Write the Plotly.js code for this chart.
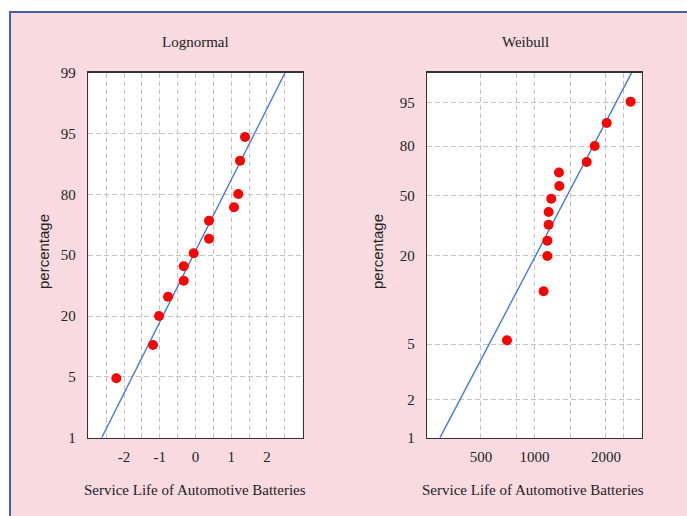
<!DOCTYPE html>
<html>
<head>
<meta charset="utf-8">
<script src="https://cdn.plot.ly/plotly-3.0.1.min.js"></script>
<style>
html,body{margin:0;padding:0;background:#ffffff;width:687px;height:516px;overflow:hidden;}
#frame{position:absolute;left:9px;top:11px;width:678px;height:505px;background:#f9dae0;border-top:2px solid #4a5ea6;border-left:2px solid #4a5ea6;box-sizing:border-box;}
#chart{position:absolute;left:0;top:0;width:687px;height:516px;}
</style>
</head>
<body>
<div id="frame"></div>
<div id="chart"></div>
<script>
// Lognormal panel (axis units: x = standardized log life, y = probability-scale position)
const lognormX = [1.386, 1.246, 1.198, 1.078, 0.378, 0.378, -0.050, -0.330, -0.330, -0.769, -1.021, -1.189, -2.216];
const lognormY = [4.943, 4.554, 4.006, 3.788, 3.567, 3.271, 3.031, 2.818, 2.581, 2.318, 2.001, 1.524, 0.977];
const lognormFitX = [-2.625, 2.505];
const lognormFitY = [0, 6];
const lognormXTickVals = [-2.5, -2, -1.5, -1, -0.5, 0, 0.5, 1, 1.5, 2, 2.5];
const lognormXTickText = ['', '-2', '', '-1', '', '0', '', '1', '', '2', ''];
const lognormYTickVals = [0, 1, 2, 3, 4, 5, 6];
const lognormYTickText = ['1', '5', '20', '50', '80', '95', '99'];

// Weibull panel (axis units)
const weibullX = [11.38, 10.04, 9.37, 8.92, 7.37, 7.39, 6.94, 6.79, 6.79, 6.72, 6.72, 6.51, 4.46];
const weibullY = [5.524, 5.173, 4.795, 4.532, 4.360, 4.138, 3.929, 3.710, 3.502, 3.239, 2.987, 2.407, 1.601];
const weibullFitX = [0.71, 11.44];
const weibullFitY = [0, 6];
const weibullXTickVals = [3, 5, 6, 8, 10, 11];
const weibullXTickText = ['500', '', '1000', '', '2000', ''];
const weibullYTickVals = [0, 0.620, 1.540, 2.987, 3.978, 4.795, 5.514];
const weibullYTickText = ['1', '2', '5', '20', '50', '80', '95'];

const panelTitles = ['Lognormal', 'Weibull'];
const xTitle = 'Service Life of Automotive Batteries';
const yTitle = 'percentage';

const serif = 'Liberation Serif, Times New Roman, serif';
const sans = 'Liberation Sans, Arial, sans-serif';
const dotColor = '#ff0000';
const lineColor = '#4a78d2';

const traces = [
  {x: lognormFitX, y: lognormFitY, xaxis: 'x', yaxis: 'y', mode: 'lines', line: {color: lineColor, width: 1.4}, hoverinfo: 'skip'},
  {x: lognormX, y: lognormY, xaxis: 'x', yaxis: 'y', mode: 'markers', marker: {color: dotColor, size: 10}},
  {x: weibullFitX, y: weibullFitY, xaxis: 'x2', yaxis: 'y2', mode: 'lines', line: {color: lineColor, width: 1.4}, hoverinfo: 'skip'},
  {x: weibullX, y: weibullY, xaxis: 'x2', yaxis: 'y2', mode: 'markers', marker: {color: dotColor, size: 10}}
];

const yDom = [1 - 437.7 / 516, 1 - 72.7 / 516];
function axisBase() {
  return {
    showline: true, mirror: true, linecolor: '#333333', linewidth: 1.5,
    showgrid: true, gridcolor: '#c4c4c4', gridwidth: 1, griddash: '5px,3px',
    zeroline: false, ticks: '', tickmode: 'array',
    tickfont: {family: serif, size: 15, color: '#222222'}
  };
}
const layout = {
  width: 687, height: 516,
  margin: {l: 0, r: 0, t: 0, b: 0},
  paper_bgcolor: 'rgba(0,0,0,0)',
  plot_bgcolor: '#ffffff',
  showlegend: false,
  xaxis: Object.assign(axisBase(), {domain: [88.3 / 687, 302.7 / 687], range: [-3, 3], tickvals: lognormXTickVals, ticktext: lognormXTickText, anchor: 'y', ticklabelstandoff: 5}),
  yaxis: Object.assign(axisBase(), {domain: yDom, range: [0, 6], tickvals: lognormYTickVals, ticktext: lognormYTickText, anchor: 'x', ticklabelstandoff: 8}),
  xaxis2: Object.assign(axisBase(), {domain: [427.3 / 687, 641.7 / 687], range: [0, 12], tickvals: weibullXTickVals, ticktext: weibullXTickText, anchor: 'y2', ticklabelstandoff: 5}),
  yaxis2: Object.assign(axisBase(), {domain: yDom, range: [0, 6], tickvals: weibullYTickVals, ticktext: weibullYTickText, anchor: 'x2', ticklabelstandoff: 8}),
  annotations: [
    {text: panelTitles[0], xref: 'paper', yref: 'paper', x: 195 / 687, y: 1 - 42 / 516, showarrow: false, font: {family: serif, size: 15, color: '#222'}, xanchor: 'center', yanchor: 'middle'},
    {text: panelTitles[1], xref: 'paper', yref: 'paper', x: 525 / 687, y: 1 - 42 / 516, showarrow: false, font: {family: serif, size: 15, color: '#222'}, xanchor: 'center', yanchor: 'middle'},
    {text: xTitle, xref: 'paper', yref: 'paper', x: 195 / 687, y: 1 - 490 / 516, showarrow: false, font: {family: serif, size: 15, color: '#222'}, xanchor: 'center', yanchor: 'middle'},
    {text: xTitle, xref: 'paper', yref: 'paper', x: 533 / 687, y: 1 - 490 / 516, showarrow: false, font: {family: serif, size: 15, color: '#222'}, xanchor: 'center', yanchor: 'middle'},
    {text: yTitle, xref: 'paper', yref: 'paper', x: 43 / 687, y: 1 - 252 / 516, showarrow: false, textangle: -90, font: {family: sans, size: 15, color: '#222'}, xanchor: 'center', yanchor: 'middle'},
    {text: yTitle, xref: 'paper', yref: 'paper', x: 377 / 687, y: 1 - 252 / 516, showarrow: false, textangle: -90, font: {family: sans, size: 15, color: '#222'}, xanchor: 'center', yanchor: 'middle'}
  ]
};
Plotly.newPlot('chart', traces, layout, {displayModeBar: false, staticPlot: true});
</script>
</body>
</html>
